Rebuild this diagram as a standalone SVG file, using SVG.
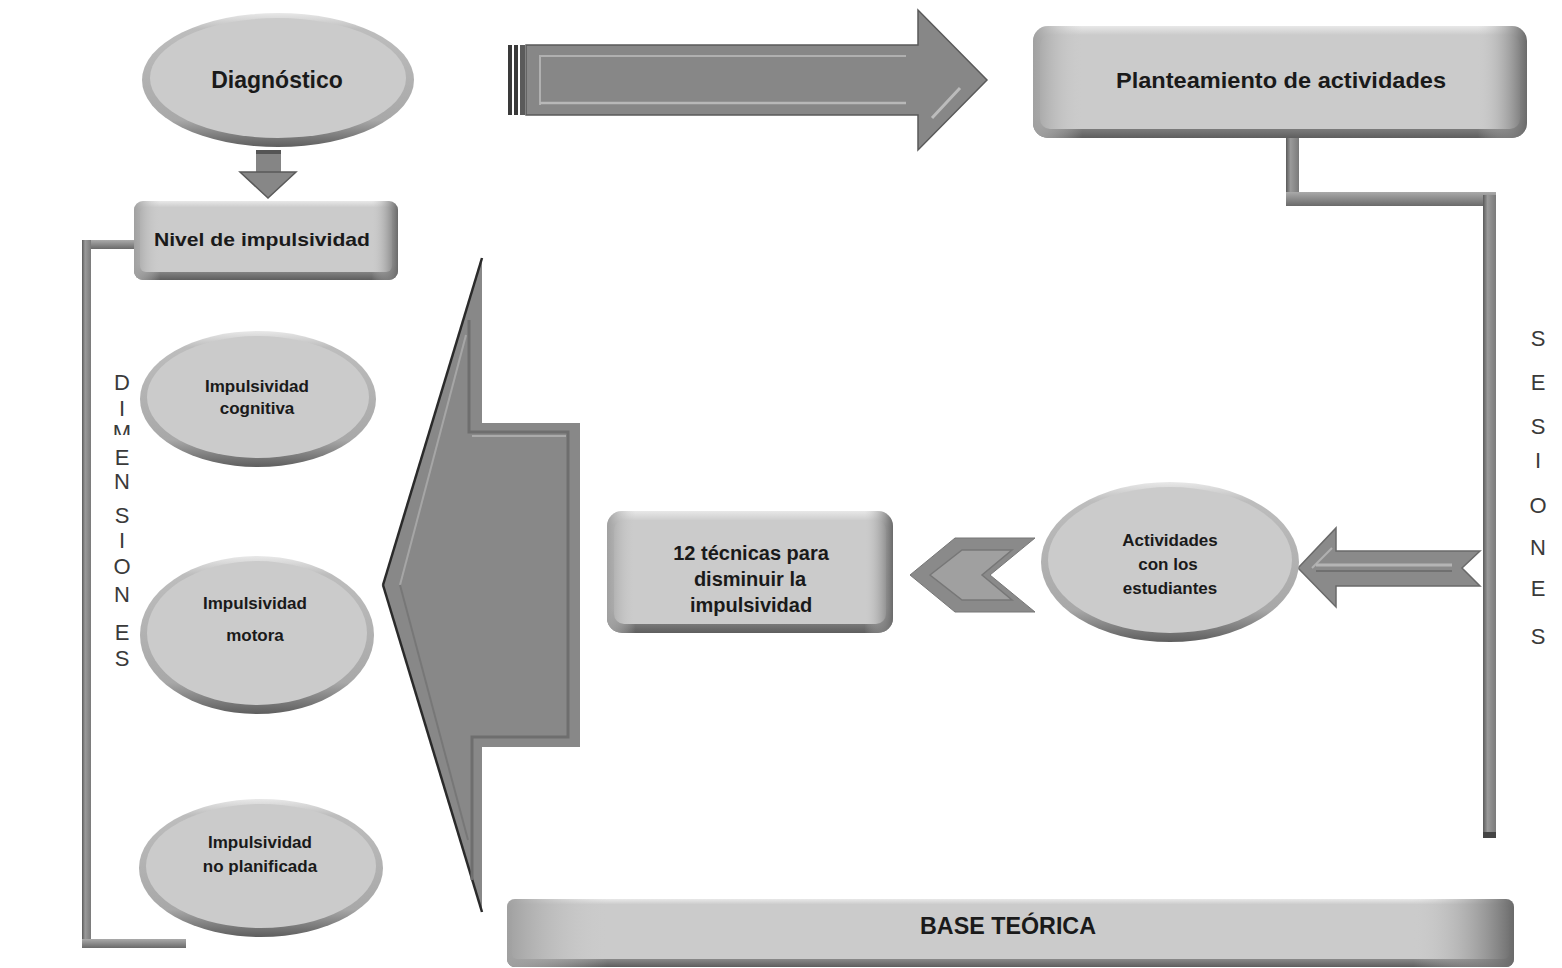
<svg xmlns="http://www.w3.org/2000/svg" width="1562" height="968" viewBox="0 0 1562 968">
<style>
.t{font-family:"Liberation Sans",Arial,sans-serif;font-weight:bold;fill:#1a1a1a;text-anchor:middle}
.l{font-family:"Liberation Sans",Arial,sans-serif;font-size:22px;fill:#3a3a3a;text-anchor:middle}
.inner{fill:#cbcbcb}
.arr{fill:#878787;stroke:#5a5a5a;stroke-width:1.5}
.hl{fill:none;stroke:#b0b0b0;stroke-width:2}
</style>
<defs>
<linearGradient id="bev" x1="0" y1="0" x2="0" y2="1">
<stop offset="0" stop-color="#e8e8e8"/>
<stop offset="0.12" stop-color="#bdbdbd"/>
<stop offset="0.8" stop-color="#a8a8a8"/>
<stop offset="1" stop-color="#5e5e5e"/>
</linearGradient>
<linearGradient id="bevH" x1="0" y1="0" x2="1" y2="0">
<stop offset="0" stop-color="#a0a0a0"/>
<stop offset="0.1" stop-color="#cbcbcb" stop-opacity="0"/>
<stop offset="0.9" stop-color="#cbcbcb" stop-opacity="0"/>
<stop offset="1" stop-color="#6a6a6a"/>
</linearGradient>
<linearGradient id="barV" x1="0" y1="0" x2="1" y2="0">
<stop offset="0" stop-color="#5a5a5a"/>
<stop offset="0.35" stop-color="#9a9a9a"/>
<stop offset="1" stop-color="#7a7a7a"/>
</linearGradient>
<linearGradient id="barH" x1="0" y1="0" x2="0" y2="1">
<stop offset="0" stop-color="#aaaaaa"/>
<stop offset="0.5" stop-color="#8a8a8a"/>
<stop offset="1" stop-color="#6a6a6a"/>
</linearGradient>
<clipPath id="mclip"><rect x="100" y="420" width="40" height="15"/></clipPath>
</defs>

<g id="connectors">
<rect x="84" y="240" width="52" height="9" fill="url(#barH)"/>
<rect x="82" y="240" width="9" height="708" fill="url(#barV)"/>
<rect x="82" y="939" width="104" height="9" fill="url(#barH)"/>
<rect x="1286" y="137" width="13" height="68" fill="url(#barV)"/>
<rect x="1286" y="192" width="210" height="14" fill="url(#barH)"/>
<rect x="1483" y="195" width="13" height="643" fill="url(#barV)"/>
<rect x="1483" y="832" width="13" height="6" fill="#444"/>
<g id="arrow-down">
<rect x="256" y="150" width="25" height="22" fill="#858585"/>
<rect x="256" y="150" width="25" height="4" fill="#555"/>
<polygon points="240,172 296,172 268,198" class="arr"/>
</g>
<g id="arrow-top">
<rect x="508" y="45" width="4" height="70" fill="#3a3a3a"/>
<rect x="514" y="45" width="4" height="70" fill="#3a3a3a"/>
<rect x="520" y="45" width="5" height="70" fill="#5a5a5a"/>
<polygon points="526,45 918,45 918,10 987,80 918,150 918,115 526,115" class="arr"/>
<polyline points="540,105 540,56 906,56" class="hl" stroke="#6a6a6a"/>
<line x1="540" y1="103" x2="906" y2="103" stroke="#b8b8b8" stroke-width="2.5"/>
<line x1="932" y1="118" x2="960" y2="88" stroke="#bcbcbc" stroke-width="3"/>
</g>
<g id="arrow-big-left">
<polygon points="383,585 482,258 482,423 580,423 580,747 482,747 482,912" fill="#888888"/>
<polyline points="383,585 482,258" stroke="#2a2a2a" stroke-width="2.5" fill="none"/>
<polyline points="383,585 482,912" stroke="#2a2a2a" stroke-width="2.5" fill="none"/>
<polyline points="469,320 469,432 568,432 568,737 472,737 472,880" stroke="#6e6e6e" stroke-width="3" fill="none"/>
<line x1="472" y1="436" x2="566" y2="436" stroke="#aaaaaa" stroke-width="2"/>
<line x1="400" y1="585" x2="466" y2="335" stroke="#a6a6a6" stroke-width="2"/>
<line x1="400" y1="585" x2="468" y2="840" stroke="#777" stroke-width="2"/>
</g>
<g id="arrow-chevron">
<polygon points="910,575 955,538 1035,538 990,575 1035,612 955,612" fill="#8a8a8a" stroke="#777" stroke-width="1"/>
<polygon points="930,575 962,550 1012,550 982,575 1012,600 962,600" fill="#a0a0a0" stroke="#777" stroke-width="1.5"/>
</g>
<g id="arrow-sesiones">
<polygon points="1298,568 1336,528 1336,551 1480,551 1462,568 1480,586 1336,586 1336,607" fill="#8a8a8a" stroke="#6a6a6a" stroke-width="1.5"/>
<polyline points="1312,568 1332,548" stroke="#b0b0b0" stroke-width="2" fill="none"/>
<line x1="1316" y1="565" x2="1452" y2="565" stroke="#b5b5b5" stroke-width="3"/>
<line x1="1316" y1="571" x2="1452" y2="571" stroke="#707070" stroke-width="2"/>
</g>
</g>

<g id="node-diagnostico">
<ellipse cx="278" cy="80" rx="136" ry="67" fill="url(#bev)"/>
<ellipse cx="278" cy="78" rx="128" ry="60" class="inner"/>
<text x="277" y="88" class="t" font-size="23">Diagnóstico</text>
</g>

<g id="node-nivel">
<rect x="134" y="201" width="264" height="79" rx="9" fill="url(#bev)"/>
<rect x="140" y="207" width="252" height="65" rx="6" class="inner"/>
<rect x="134" y="201" width="264" height="79" rx="9" fill="url(#bevH)"/>
<text x="262" y="246" class="t" font-size="19" textLength="216" lengthAdjust="spacingAndGlyphs">Nivel de impulsividad</text>
</g>

<g id="node-planteamiento">
<rect x="1033" y="26" width="494" height="112" rx="15" fill="url(#bev)"/>
<rect x="1040" y="35" width="480" height="94" rx="10" class="inner"/>
<rect x="1033" y="26" width="494" height="112" rx="15" fill="url(#bevH)"/>
<text x="1281" y="88" class="t" font-size="22" textLength="330" lengthAdjust="spacingAndGlyphs">Planteamiento de actividades</text>
</g>

<g id="node-cognitiva">
<ellipse cx="258" cy="399" rx="118" ry="68" fill="url(#bev)"/>
<ellipse cx="258" cy="397" rx="111" ry="61" class="inner"/>
<text x="257" y="392" class="t" font-size="17">Impulsividad</text>
<text x="257" y="414" class="t" font-size="17">cognitiva</text>
</g>

<g id="node-motora">
<ellipse cx="257" cy="635" rx="117" ry="79" fill="url(#bev)"/>
<ellipse cx="257" cy="633" rx="110" ry="72" class="inner"/>
<text x="255" y="609" class="t" font-size="17">Impulsividad</text>
<text x="255" y="641" class="t" font-size="17">motora</text>
</g>

<g id="node-noplanificada">
<ellipse cx="261" cy="868" rx="122" ry="69" fill="url(#bev)"/>
<ellipse cx="261" cy="866" rx="115" ry="62" class="inner"/>
<text x="260" y="848" class="t" font-size="17">Impulsividad</text>
<text x="260" y="872" class="t" font-size="17">no planificada</text>
</g>

<g id="node-tecnicas">
<rect x="607" y="511" width="286" height="122" rx="15" fill="url(#bev)"/>
<rect x="614" y="520" width="272" height="104" rx="10" class="inner"/>
<rect x="607" y="511" width="286" height="122" rx="15" fill="url(#bevH)"/>
<text x="751" y="560" class="t" font-size="20">12 técnicas para</text>
<text x="750" y="586" class="t" font-size="20">disminuir la</text>
<text x="751" y="612" class="t" font-size="20">impulsividad</text>
</g>

<g id="node-actividades">
<ellipse cx="1170" cy="562" rx="129" ry="80" fill="url(#bev)"/>
<ellipse cx="1170" cy="560" rx="122" ry="73" class="inner"/>
<text x="1170" y="546" class="t" font-size="17">Actividades</text>
<text x="1168" y="570" class="t" font-size="17">con los</text>
<text x="1170" y="594" class="t" font-size="17">estudiantes</text>
</g>

<g id="node-base">
<rect x="507" y="899" width="1007" height="68" rx="8" fill="url(#bev)"/>
<rect x="512" y="905" width="997" height="54" rx="5" class="inner"/>
<rect x="507" y="899" width="1007" height="68" rx="8" fill="url(#bevH)"/>
<text x="1008" y="934" class="t" font-size="23" textLength="176" lengthAdjust="spacingAndGlyphs">BASE TEÓRICA</text>
</g>

<g id="label-dimensiones">
<text x="122" y="390" class="l">D</text>
<text x="122" y="416" class="l">I</text>
<text x="122" y="440" class="l" font-size="20" clip-path="url(#mclip)">M</text>
<text x="122" y="465" class="l">E</text>
<text x="122" y="489" class="l">N</text>
<text x="122" y="523" class="l">S</text>
<text x="122" y="548" class="l">I</text>
<text x="122" y="574" class="l">O</text>
<text x="122" y="602" class="l">N</text>
<text x="122" y="640" class="l">E</text>
<text x="122" y="666" class="l">S</text>
</g>

<g id="label-sesiones">
<text x="1538" y="346" class="l">S</text>
<text x="1538" y="390" class="l">E</text>
<text x="1538" y="434" class="l">S</text>
<text x="1538" y="468" class="l">I</text>
<text x="1538" y="513" class="l">O</text>
<text x="1538" y="555" class="l">N</text>
<text x="1538" y="596" class="l">E</text>
<text x="1538" y="644" class="l">S</text>
</g>
</svg>
